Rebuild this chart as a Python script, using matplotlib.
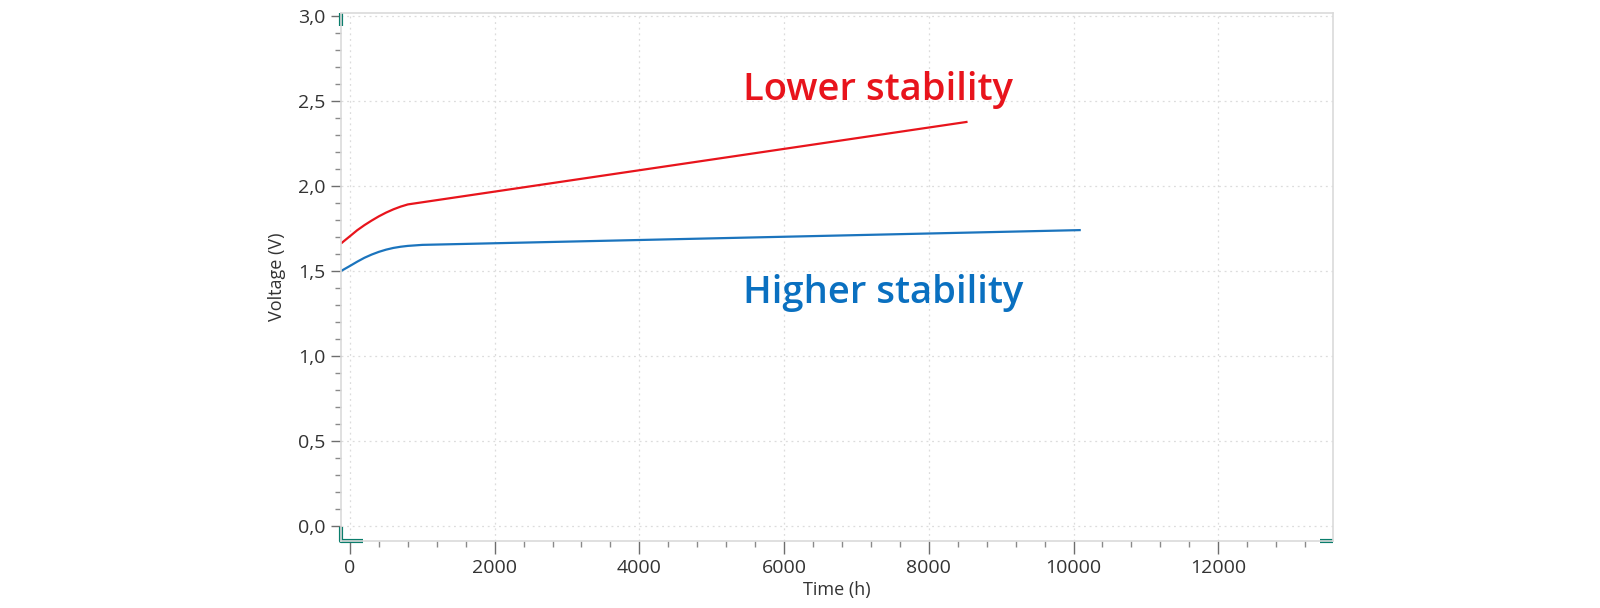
import matplotlib
matplotlib.use("Agg")
import matplotlib.pyplot as plt
from matplotlib.ticker import MultipleLocator, FuncFormatter

# values
time_lower = [-124, 0, 100, 200, 300, 400, 500, 600, 700, 800, 8535]
volt_lower = [1.66, 1.703, 1.738, 1.768, 1.795, 1.82, 1.842, 1.861, 1.877, 1.89, 2.376]

time_higher = [-124, 0, 100, 200, 300, 400, 500, 600, 700, 800, 900, 1000, 10100]
volt_higher = [1.498, 1.528, 1.553, 1.576, 1.595, 1.611, 1.624, 1.634, 1.641, 1.646, 1.649, 1.652, 1.739]

x_limits = (-124, 13585)
y_limits = (-0.09, 3.016)

plt.rcParams['font.family'] = ['Open Sans', 'DejaVu Sans']

fig = plt.figure(figsize=(16, 6.08), dpi=100)
ax = fig.add_axes([0.2131, 0.1102, 0.62, 0.8684])

red = '#e8141c'
blue = '#0a70c0'
ax.plot(time_lower, volt_lower, color=red, lw=1.6, solid_capstyle='butt')
ax.plot(time_higher, volt_higher, color='#1b74bd', lw=1.6, solid_capstyle='butt')

ax.set_xlim(*x_limits)
ax.set_ylim(*y_limits)

ax.xaxis.set_major_locator(MultipleLocator(2000))
ax.xaxis.set_minor_locator(MultipleLocator(400))
ax.yaxis.set_major_locator(MultipleLocator(0.5))
ax.yaxis.set_minor_locator(MultipleLocator(0.1))
ax.yaxis.set_major_formatter(FuncFormatter(lambda v, p: f"{v:.1f}".replace('.', ',')))
ax.xaxis.set_major_formatter(FuncFormatter(lambda v, p: f"{v:.0f}"))

ax.grid(True, which='major', color='#dcdcdc', linestyle=(0, (1.5, 3)), lw=0.9)
ax.set_axisbelow(True)

for s in ax.spines.values():
    s.set_color('#dadada')
    s.set_linewidth(1.2)

ax.tick_params(which='major', length=7, width=1, color='#6e6e6e', labelsize=14, labelcolor='#333333', pad=4)
ax.tick_params(which='minor', length=4, width=1, color='#8a8a8a')
ax.tick_params(axis='x', which='major', length=9)

ax.set_xlabel('Time (h)', fontsize=13, color='#333333', labelpad=3)
ax.set_ylabel('Voltage (V)', fontsize=13, color='#333333', labelpad=9)

# corner markers
teal = '#0a7d6c'
kw = dict(transform=ax.transAxes, color=teal, lw=3, clip_on=False, solid_capstyle='butt')
ax.plot([0, 0], [1, 0.975], **kw)
ax.plot([0, 0, 0.022], [0.027, 0, 0], **kw)
ax.plot([0.987, 1], [0, 0], **kw)

ax.text(5431, 2.504, 'Lower stability', color=red, fontsize=27.5, fontweight='semibold', va='baseline', ha='left')
ax.text(5431, 1.31, 'Higher stability', color=blue, fontsize=27.5, fontweight='semibold', va='baseline', ha='left')

fig.savefig('out.png', dpi=100, facecolor='white')
